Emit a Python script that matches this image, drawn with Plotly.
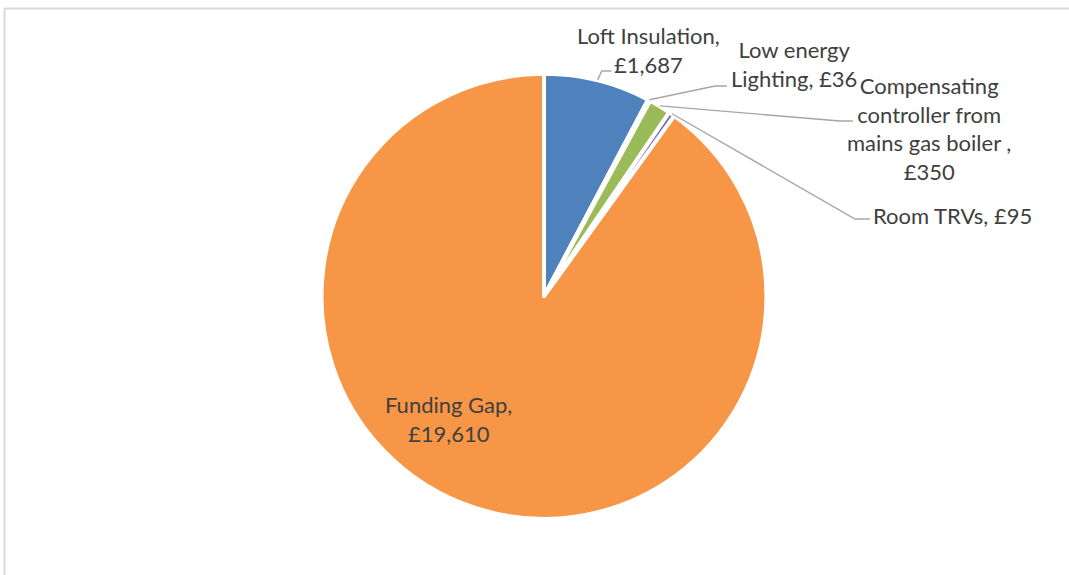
import math
import textwrap
import plotly.graph_objects as go

# Funding breakdown
categories = [
    "Loft Insulation",
    "Low energy Lighting",
    "Compensating controller from mains gas boiler ",
    "Room TRVs",
    "Funding Gap",
]
values = [1687, 36, 350, 95, 19610]
colors = ["#4F81BD", "#C0504D", "#9BBB59", "#8064A2", "#F79646"]
wrap_widths = [16, 13, 18, 20, 12]

W, H = 1069, 575
CX, CY, R = 544, 296.3, 222.5   # pie centre / radius in pixels
TEXT = "#404040"
FONT = "Lato"


def px(x):
    return x / W


def py(y):
    return 1 - y / H


fig = go.Figure(
    go.Pie(
        labels=categories,
        values=values,
        sort=False,
        direction="clockwise",
        rotation=0,
        textinfo="none",
        hoverinfo="label+value",
        marker=dict(colors=colors, line=dict(color="white", width=4)),
        domain=dict(x=[px(CX - R), px(CX + R)], y=[py(CY + R), py(CY - R)]),
    )
)

# label text built from category + value
label_text = []
for cat, val, w in zip(categories, values, wrap_widths):
    lines = textwrap.wrap(f"{cat}, £{val:,}", width=w)
    label_text.append("<br>".join(lines))

# label centres (px) and leader elbows (px); None = label sits inside the slice
label_pos = [(648, 50.5), (794, 64), (929, 129), (952, 215), (448, 419)]
elbows = [
    [(601.7, 71), (611.5, 71)],
    [(715, 86), (727, 86)],
    [(840, 121), (853, 121)],
    [(855, 219), (870, 219)],
    None,
]

total = sum(values)
cum = 0
shapes = []
annotations = []
for i, val in enumerate(values):
    mid = (cum + val / 2) / total * 2 * math.pi
    cum += val
    lx, ly = label_pos[i]
    annotations.append(dict(
        x=px(lx), y=py(ly), xref="paper", yref="paper",
        text=label_text[i], showarrow=False, align="center",
        xanchor="center", yanchor="middle",
        font=dict(family=FONT, size=22, color=TEXT),
    ))
    if elbows[i] is not None:
        ex = CX + 223 * math.sin(mid)
        ey = CY - 223 * math.cos(mid)
        pts = [(ex, ey)] + elbows[i]
        path = "M " + " L ".join(f"{px(x):.5f},{py(y):.5f}" for x, y in pts)
        shapes.append(dict(
            type="path", path=path, xref="paper", yref="paper",
            line=dict(color="#A6A6A6", width=1.4),
        ))

# chart frame: top and left edges
frame = dict(color="#D9D9D9", width=2)
shapes.append(dict(type="line", xref="paper", yref="paper",
                   x0=px(4.5), y0=py(8.5), x1=1.0, y1=py(8.5), line=frame))
shapes.append(dict(type="line", xref="paper", yref="paper",
                   x0=px(4.5), y0=py(8.5), x1=px(4.5), y1=0.0, line=frame))

fig.update_layout(
    width=W, height=H,
    margin=dict(l=0, r=0, t=0, b=0),
    paper_bgcolor="white",
    plot_bgcolor="white",
    showlegend=False,
    shapes=shapes,
    annotations=annotations,
    font=dict(family=FONT, color=TEXT),
)

page_css = (
    "var s=document.createElement('style');"
    "s.textContent='html,body{margin:0;padding:0;overflow:hidden;}"
    "::-webkit-scrollbar{display:none;}';"
    "document.head.appendChild(s);"
)

fig.write_html(
    "out.html",
    config={"displayModeBar": False},
    post_script=page_css,
)
